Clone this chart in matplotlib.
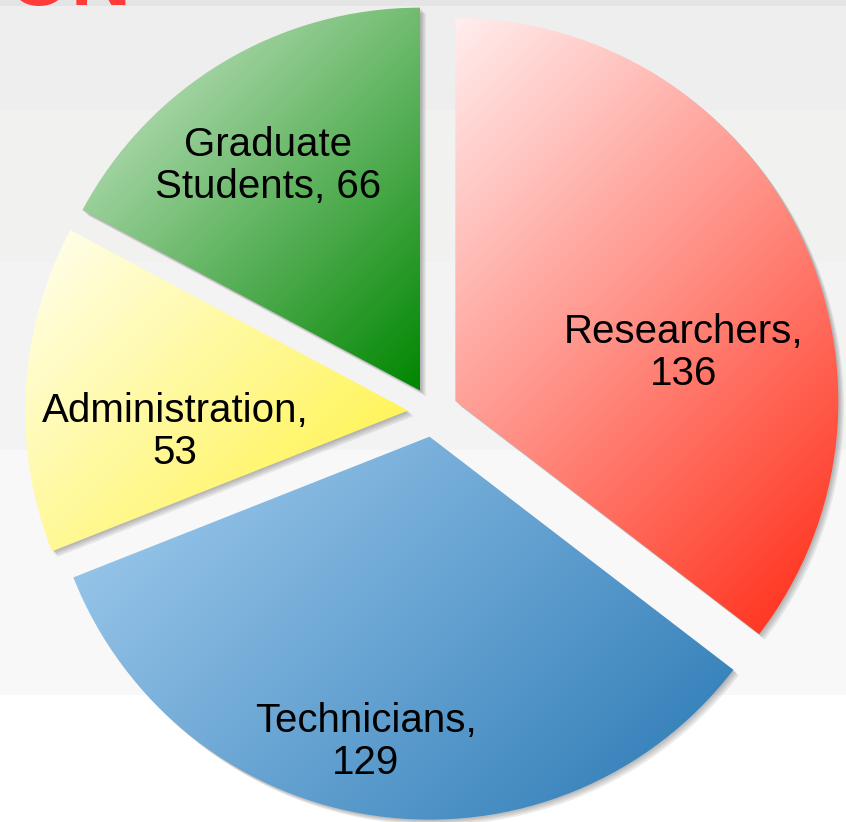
import matplotlib.pyplot as plt
import matplotlib.patheffects as pe
import numpy as np
from matplotlib.colors import to_rgb

plt.rcParams['font.family'] = ['Liberation Sans', 'DejaVu Sans']

# slice data (clockwise from 12 o'clock)
groups = ["Researchers", "Technicians", "Administration", "Graduate\nStudents"]
counts = [136, 129, 53, 66]
light_colors = ["#ffeeee", "#a6cff0", "#fffff2", "#d6ecd6"]
dark_colors = ["#ff2812", "#2878b4", "#fff236", "#008600"]

# label texts as they appear on the slide
labels = ["Researchers,\n136", "Technicians,\n129", "Administration,\n53", "Graduate\nStudents, 66"]
label_xy = [(0.653, 0.154), (-0.175, -0.862), (-0.674, -0.052), (-0.431, 0.642)]

fig = plt.figure(figsize=(8.46, 8.22), dpi=100)

# slide background: faint horizontal bands
bg = fig.add_axes([0, 0, 1, 1], zorder=-1)
bg.set_xlim(0, 1)
bg.set_ylim(822, 0)
bg.axis("off")
band_edges = [0, 6, 110, 262, 450, 695, 822]
band_colors = ["#e4e4e4", "#eeeeee", "#f1f1f0", "#f3f3f3", "#f8f8f8", "#ffffff"]
for i, c in enumerate(band_colors):
    bg.axhspan(band_edges[i], band_edges[i + 1], color=c, lw=0)

# cut-off red title at the very top of the slide
fig.text(0.008, 1 - 5 / 822, "ON", color="#ff3a3a", fontsize=60,
         fontweight="bold", va="baseline", ha="left")

ax = fig.add_axes([0, 0, 1, 1])
wedges, _ = ax.pie(counts, explode=[0.065] * len(counts), startangle=90,
                   counterclock=False, radius=1.0)
ax.set_autoscale_on(False)

shadow = [pe.SimplePatchShadow(offset=(o, -o), shadow_rgbFace="k", alpha=0.07)
          for o in (1, 2, 3, 4)]

for w, c0, c1 in zip(wedges, light_colors, dark_colors):
    w.set_facecolor("none")
    w.set_edgecolor("none")
    w.set_path_effects(shadow + [pe.Normal()])
    w.set_zorder(1)
    verts = w.get_path().vertices
    x0, y0 = verts.min(axis=0)
    x1, y1 = verts.max(axis=0)
    nx, ny = 300, 300
    u = np.linspace(0, 1, nx)[None, :]
    v = np.linspace(0, 1, ny)[:, None]
    wx, wy = x1 - x0, y1 - y0
    t = (u * wx + v * wy) / (wx + wy)
    a, b = np.array(to_rgb(c0)), np.array(to_rgb(c1))
    img = a[None, None, :] * (1 - t[..., None]) + b[None, None, :] * t[..., None]
    im = ax.imshow(img, extent=[x0, x1, y0, y1], origin="upper",
                   aspect="auto", zorder=2, interpolation="bilinear")
    im.set_clip_path(w)

for txt, (x, y) in zip(labels, label_xy):
    ax.text(x, y, txt, ha="center", va="center", fontsize=29,
            color="black", zorder=3, linespacing=1.15)

# map data units to the slide: centre at (433, 412) px, radius 383 px
ax.set_xlim(-433 / 383, (846 - 433) / 383)
ax.set_ylim(-(822 - 412) / 383, 412 / 383)
ax.set_aspect("auto")
ax.axis("off")

fig.savefig("out.png", dpi=100)
